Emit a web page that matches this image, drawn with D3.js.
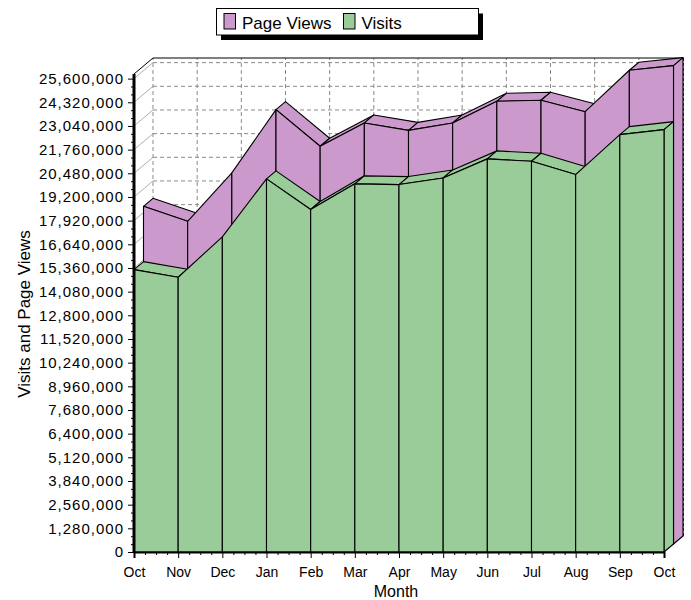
<!DOCTYPE html>
<html>
<head>
<meta charset="utf-8">
<script src="https://cdnjs.cloudflare.com/ajax/libs/d3/7.8.5/d3.min.js"></script>
<style>
body { margin: 0; background: #fff; }
svg { display: block; font-family: "Liberation Sans", Arial, sans-serif; }
</style>
</head>
<body>
<svg width="691" height="600"></svg>
<script>
// data
var months = ["Oct", "Nov", "Dec", "Jan", "Feb", "Mar", "Apr", "May", "Jun", "Jul", "Aug", "Sep", "Oct"];
var visits = [15270000, 14860000, 17040000, 20180000, 18520000, 19910000, 19870000,
              20230000, 21260000, 21130000, 20410000, 22570000, 22840000];
var pageViews = [18260000, 17450000, 20070000, 23490000, 21510000, 22770000, 22370000,
                 22770000, 23940000, 24000000, 23380000, 25620000, 25870000];
var yTicks = [0, 1280000, 2560000, 3840000, 5120000, 6400000, 7680000, 8960000, 10240000,
              11520000, 12800000, 14080000, 15360000, 16640000, 17920000, 19200000, 20480000,
              21760000, 23040000, 24320000, 25600000];

var svg = d3.select("svg");

var x = d3.scaleLinear().domain([0, months.length - 1]).range([134, 664]);
var y = d3.scaleLinear().domain([0, 25850000]).range([552, 74]);

// one series row of depth, two rows in total
var ddx = 9.5, ddy = -8;
var bx = ddx * 2, by = ddy * 2;
var x0 = x(0), x1 = x(months.length - 1), yb = y(0), yt = y.range()[1];

var line = d3.line();

// walls
var wall = svg.append("g");
wall.append("path")
  .attr("d", line([[x0, yb], [x0, yt], [x0 + bx, yt + by], [x0 + bx, yb + by]]) + "Z")
  .attr("fill", "#fff");
wall.append("rect")
  .attr("x", x0 + bx).attr("y", yt + by)
  .attr("width", x1 - x0).attr("height", yb - yt)
  .attr("fill", "#fff");

wall.selectAll(".hgrid").data(yTicks).enter().append("line")
  .attr("x1", x0 + bx).attr("x2", x1 + bx)
  .attr("y1", d => y(d) + by).attr("y2", d => y(d) + by)
  .attr("stroke", "#8a8a8a").attr("stroke-dasharray", "4,3");
wall.selectAll(".diag").data(yTicks).enter().append("line")
  .attr("x1", x0).attr("x2", x0 + bx)
  .attr("y1", d => y(d)).attr("y2", d => y(d) + by)
  .attr("stroke", "#9a9a9a").attr("stroke-width", 0.8);
wall.selectAll(".vgrid").data(months).enter().append("line")
  .attr("x1", (d, i) => x(i) + bx).attr("x2", (d, i) => x(i) + bx)
  .attr("y1", yb + by).attr("y2", yt + by)
  .attr("stroke", "#8a8a8a").attr("stroke-dasharray", "4,3");

wall.append("path")
  .attr("d", line([[x0, yt], [x0 + bx, yt + by], [x1 + bx, yt + by]]))
  .attr("fill", "none").attr("stroke", "#000");
wall.append("line")
  .attr("x1", x1 + bx).attr("x2", x1 + bx)
  .attr("y1", yt + by).attr("y2", yb + by)
  .attr("stroke", "#000").attr("stroke-width", 1.5).attr("stroke-dasharray", "3,2");

// 3d area series
function drawSeries(values, row, color) {
  var g = svg.append("g")
    .attr("fill", color).attr("stroke", "#000")
    .attr("stroke-width", 1.1).attr("stroke-linejoin", "round");
  var ox = row * ddx, oy = row * ddy;
  var base = yb + oy;
  var p = values.map(function (v, i) {
    return { fx: x(i) + ox, fy: y(v) + oy, bx: x(i) + ox + ddx, by: y(v) + oy + ddy };
  });
  // top faces
  for (var i = 0; i < p.length - 1; i++) {
    var a = p[i], b = p[i + 1];
    var cross = (b.fx - a.fx) * ddy - (b.fy - a.fy) * ddx;
    if (cross >= 0) continue;
    g.append("path").attr("d", line([[a.fx, a.fy], [b.fx, b.fy], [b.bx, b.by], [a.bx, a.by]]) + "Z");
  }
  // right end
  var l = p[p.length - 1];
  g.append("path").attr("d", line([[l.fx, base], [l.fx, l.fy], [l.bx, l.by], [l.bx, base + ddy]]) + "Z");
  // front faces
  for (var j = 0; j < p.length - 1; j++) {
    var c = p[j], e = p[j + 1];
    g.append("path").attr("d", line([[c.fx, base], [c.fx, c.fy], [e.fx, e.fy], [e.fx, base]]) + "Z");
  }
}

drawSeries(pageViews, 1, "#cc99cc");
drawSeries(visits, 0, "#99cc99");

// y axis
var yMinor = [];
yTicks.slice(0, -1).forEach(function (t) {
  yMinor.push(t + 1280000 / 3, t + 2 * 1280000 / 3);
});
svg.append("g")
  .attr("transform", "translate(" + x0 + ",0)")
  .call(d3.axisLeft(y).tickValues(yMinor).tickSize(3).tickFormat(""))
  .call(g => g.select(".domain").remove());
var yAxis = svg.append("g")
  .attr("transform", "translate(" + x0 + ",0)")
  .call(d3.axisLeft(y).tickValues(yTicks).tickFormat(d3.format(",")).tickSize(6).tickPadding(4));
yAxis.select(".domain").remove();
yAxis.selectAll("text")
  .attr("font-family", "'Liberation Sans', Arial, sans-serif")
  .attr("font-size", 15).attr("letter-spacing", "1px").attr("fill", "#000");
svg.append("line")
  .attr("x1", x0).attr("x2", x0).attr("y1", yb + 1).attr("y2", yt)
  .attr("stroke", "#000").attr("stroke-width", 3);

// x axis
var xMinor = [];
months.slice(0, -1).forEach(function (m, i) {
  xMinor.push(i + 0.25, i + 0.5, i + 0.75);
});
svg.append("g")
  .attr("transform", "translate(0," + yb + ")")
  .call(d3.axisBottom(x).tickValues(xMinor).tickSize(3).tickFormat(""))
  .call(g => g.select(".domain").remove());
var xAxis = svg.append("g")
  .attr("transform", "translate(0," + yb + ")")
  .call(d3.axisBottom(x).tickValues(d3.range(months.length)).tickFormat(i => months[i]).tickSize(6).tickPadding(9));
xAxis.select(".domain").attr("stroke-width", 2);
xAxis.selectAll("text")
  .attr("font-family", "'Liberation Sans', Arial, sans-serif")
  .attr("font-size", 14).attr("fill", "#000");

// axis titles
svg.append("text")
  .attr("x", 396).attr("y", 597)
  .attr("text-anchor", "middle").attr("font-size", 16)
  .text("Month");
svg.append("text")
  .attr("transform", "translate(24,314) rotate(-90)")
  .attr("text-anchor", "middle").attr("dominant-baseline", "central")
  .attr("font-size", 17)
  .text("Visits and Page Views");

// legend
var legend = svg.append("g");
legend.append("rect").attr("x", 221).attr("y", 13.5).attr("width", 262).attr("height", 26.5).attr("fill", "#000");
legend.append("rect").attr("x", 216.5).attr("y", 8.5).attr("width", 262).attr("height", 26.5)
  .attr("fill", "#fff").attr("stroke", "#000");
var items = [
  { name: "Page Views", color: "#cc99cc", x: 224 },
  { name: "Visits", color: "#99cc99", x: 343.5 }
];
items.forEach(function (d) {
  legend.append("rect").attr("x", d.x).attr("y", 13.5).attr("width", 11.5).attr("height", 15.5)
    .attr("fill", d.color).attr("stroke", "#000");
  legend.append("text").attr("x", d.x + 18).attr("y", 28.5)
    .attr("font-size", 17).text(d.name);
});
</script>
</body>
</html>
